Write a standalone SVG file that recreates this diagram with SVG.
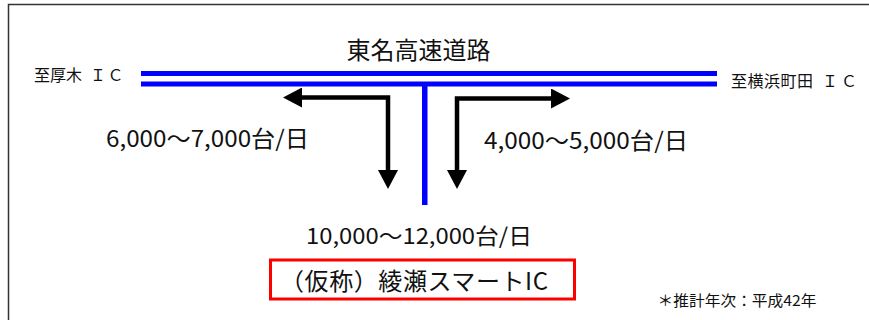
<svg xmlns="http://www.w3.org/2000/svg" width="869" height="320" viewBox="0 0 869 320">
<style>
  .t { font-family: "Noto Sans CJK JP", "Liberation Sans", sans-serif; fill: #111; }
  .road { fill: #0000ff; }
  .arrow { fill: none; stroke: #000; stroke-width: 4.5; stroke-linejoin: miter; marker-start: url(#head); marker-end: url(#head); }
  .frame { fill: none; stroke: #333; stroke-width: 1.5; }
</style>
<defs>
  <marker id="head" markerUnits="userSpaceOnUse" viewBox="0 0 19 20" refX="0" refY="10" markerWidth="19" markerHeight="20" orient="auto-start-reverse">
    <path d="M0,0 L19,10 L0,20 Z" fill="#000"/>
  </marker>
</defs>
<rect width="869" height="320" fill="#fff"/>
<path class="frame" d="M8.5,320 V4.5 H869"/>

<g id="road">
  <rect class="road" x="141" y="71" width="576" height="5"/>
  <rect class="road" x="141" y="81.5" width="576" height="5"/>
  <rect class="road" x="422" y="86" width="5.5" height="119"/>
</g>

<g id="title">
  <text class="t" x="418.5" y="58.5" font-size="24" text-anchor="middle">東名高速道路</text>
</g>
<g id="atsugi">
  <text class="t" x="34 50 66 90 107.5" y="80.5" font-size="16">至厚木ＩＣ</text>
</g>
<g id="yokohama">
  <text class="t" x="731 747.5 764 780.5 797 822 841" y="87" font-size="16">至横浜町田ＩＣ</text>
</g>

<g id="connectors">
  <path class="arrow" d="M302,97.5 H388 V170"/>
  <path class="arrow" d="M457,170 V98.5 H551"/>
</g>

<g id="flow-left">
  <text class="t" x="106" y="147" font-size="23" textLength="203" lengthAdjust="spacingAndGlyphs">6,000～7,000台/日</text>
</g>
<g id="flow-right">
  <text class="t" x="484" y="149" font-size="23" textLength="204" lengthAdjust="spacingAndGlyphs">4,000～5,000台/日</text>
</g>
<g id="flow-total">
  <text class="t" x="306" y="244" font-size="22" textLength="226" lengthAdjust="spacingAndGlyphs">10,000～12,000台/日</text>
</g>
<g id="smart-ic">
  <rect x="270.5" y="260" width="304" height="39" fill="none" stroke="#ff0000" stroke-width="3"/>
  <text class="t" x="280" y="290" font-size="24" textLength="268" lengthAdjust="spacing">（仮称）綾瀬スマートIC</text>
</g>
<g id="note">
  <text class="t" x="657.5" y="306" font-size="15" textLength="159" lengthAdjust="spacingAndGlyphs">＊推計年次：平成42年</text>
</g>
</svg>
